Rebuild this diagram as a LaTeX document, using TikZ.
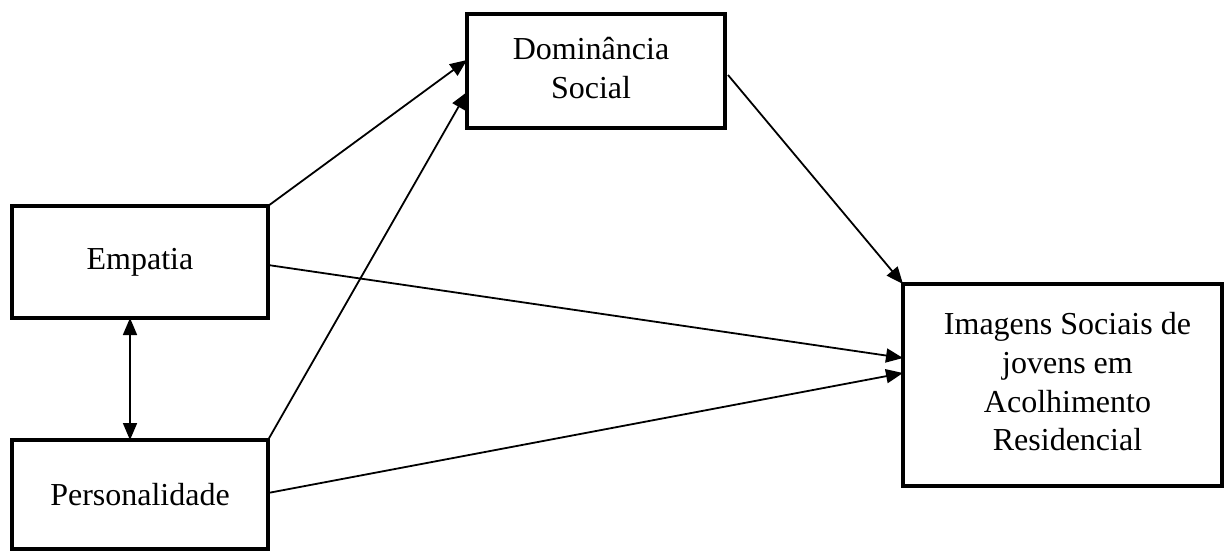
\documentclass[tikz,border=0pt]{standalone}
\usepackage{fontspec}
\setmainfont{Liberation Serif}
\usetikzlibrary{arrows.meta,calc}
\newcommand{\stk}[2][-4pt]{\raisebox{#1}{\begin{tabular}{@{}c@{}}#2\end{tabular}}}
\begin{document}
\begin{tikzpicture}[x=1pt,y=-1pt,
  box/.style={draw=black,line width=3.5pt,inner sep=0pt,outer sep=0pt,align=center,
    font=\fontsize{32}{38.7}\selectfont},
  conn/.style={line width=1.8pt,-{Triangle[length=17pt,width=14pt]}},
  dconn/.style={line width=1.8pt,{Triangle[length=17pt,width=14pt]}-{Triangle[length=17pt,width=14pt]}}]
\useasboundingbox (0,0) rectangle (1224,551);
\node[box,minimum width=258pt,minimum height=114pt] (dom) at (596,71) {\stk{Dominância\\Social}\hspace*{10pt}};
\node[box,minimum width=256pt,minimum height=112pt] (emp) at (140,262) {Empatia};
\node[box,minimum width=256pt,minimum height=109pt] (per) at (140,494.5) {Personalidade};
\node[box,minimum width=319pt,minimum height=202pt] (img) at (1062.5,385) {\hspace*{10pt}\stk{Imagens Sociais de\\jovens em\\Acolhimento\\Residencial}};
\draw[conn] (emp.north east) -- ($(dom.west)+(0,-11)$);
\draw[conn] (per.north east) -- ($(dom.west)+(0,21)$);
\draw[conn] ($(dom.east)+(3,4)$) -- (img.north west);
\draw[conn] ($(emp.east)+(0,3)$) -- ($(img.west)+(0,-27)$);
\draw[conn] ($(per.east)+(0,-1.5)$) -- ($(img.west)+(0,-12)$);
\draw[dconn] ($(emp.south)+(-10,0)$) -- ($(per.north)+(-10,0)$);
\end{tikzpicture}
\end{document}
